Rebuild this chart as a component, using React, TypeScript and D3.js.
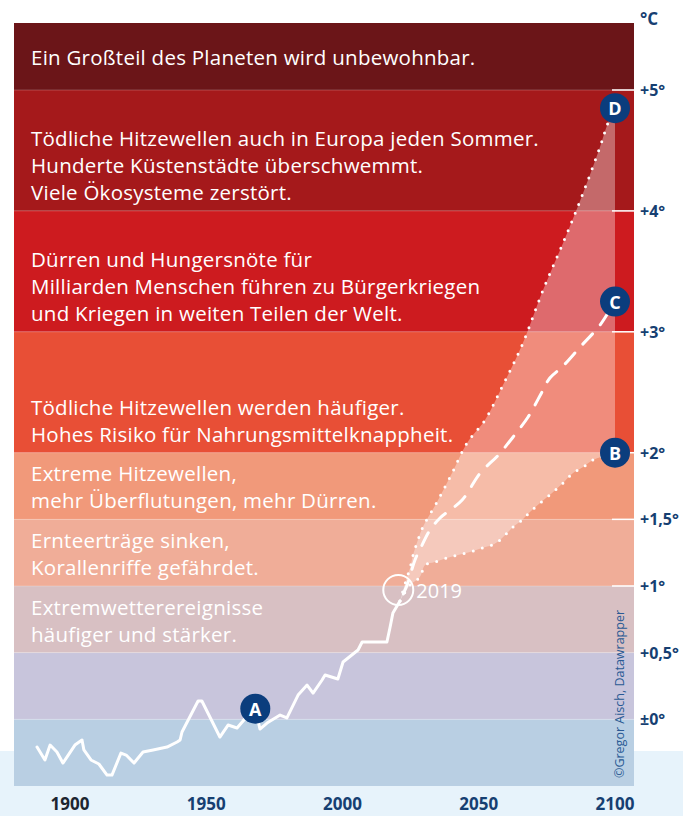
import React from 'react';
import * as d3 from 'd3';

const W = 683;
const H = 816;

// Band edges in °C (bottom → top) and their colours
const bandEdges = [-0.5, 0, 0.5, 1, 1.5, 2, 3, 4, 5, 5.55];
const bandColors = ['#b9cfe3', '#c8c5dc', '#d8c0c3', '#f0ad98', '#f1997a', '#e84f36', '#cd1b1f', '#a5191b', '#6b1518'];
const bandTexts: string[][] = [
  [],
  [],
  ['Extremwetterereignisse', 'häufiger und stärker.'],
  ['Ernteerträge sinken,', 'Korallenriffe gefährdet.'],
  ['Extreme Hitzewellen,', 'mehr Überflutungen, mehr Dürren.'],
  ['Tödliche Hitzewellen werden häufiger.', 'Hohes Risiko für Nahrungsmittelknappheit.'],
  ['Dürren und Hungersnöte für', 'Milliarden Menschen führen zu Bürgerkriegen', 'und Kriegen in weiten Teilen der Welt.'],
  ['Tödliche Hitzewellen auch in Europa jeden Sommer.', 'Hunderte Küstenstädte überschwemmt.', 'Viele Ökosysteme zerstört.'],
  ['Ein Großteil des Planeten wird unbewohnbar.'],
];

const yTicks = [0, 0.5, 1, 1.5, 2, 3, 4, 5];
const yTickLabels = ['±0°', '+0,5°', '+1°', '+1,5°', '+2°', '+3°', '+4°', '+5°'];
const whiteTicks = [1, 1.5, 2, 3, 4, 5];
const xTicks = [1900, 1950, 2000, 2050, 2100];

// Observed temperature anomaly (year, °C)
const histYears = [1887.9, 1890.8, 1892.7, 1895.2, 1897.4, 1901.8, 1904.4, 1905.1, 1907.7, 1910.6, 1913.6, 1915.4, 1918.7, 1920.6, 1923.5, 1926.8, 1930.5, 1935.6, 1939.3, 1940.4, 1941.1, 1947.0, 1948.4, 1955.0, 1958.0, 1961.3, 1963.5, 1966.8, 1968.3, 1969.7, 1972.3, 1977.1, 1979.6, 1983.7, 1987.0, 1989.2, 1992.5, 1993.6, 1998.3, 2000.2, 2005.7, 2007.2, 2016.3, 2017.4, 2018.5, 2021.1];
const histValues = [-0.208, -0.305, -0.193, -0.245, -0.328, -0.193, -0.155, -0.23, -0.305, -0.335, -0.418, -0.418, -0.253, -0.268, -0.328, -0.245, -0.23, -0.208, -0.17, -0.155, -0.095, 0.137, 0.137, -0.133, -0.043, -0.065, -0.013, 0.07, 0.055, -0.073, -0.028, 0.032, 0.01, 0.182, 0.257, 0.197, 0.295, 0.332, 0.302, 0.43, 0.52, 0.58, 0.58, 0.685, 0.797, 0.887];

// Scenario D (upper)
const dYears = [2021.1, 2023.7, 2024.8, 2025.9, 2027.3, 2029.5, 2034.7, 2040.2, 2045.7, 2052.3, 2058.9, 2065.9, 2073.6, 2081.7, 2088.3, 2094.5, 2097.4, 2100];
const dValues = [0.887, 1.067, 1.135, 1.232, 1.322, 1.442, 1.63, 1.847, 2.08, 2.27, 2.56, 2.89, 3.345, 3.776, 4.148, 4.529, 4.727, 4.85];
// Scenario C (middle)
const cYears = [2021.1, 2023.7, 2026.6, 2029.2, 2032.1, 2035.8, 2043.9, 2050.5, 2057.1, 2062.6, 2068.1, 2073.2, 2076.1, 2080.6, 2087.2, 2094.5, 2100];
const cValues = [0.887, 1.007, 1.195, 1.307, 1.42, 1.51, 1.645, 1.847, 1.98, 2.13, 2.295, 2.502, 2.618, 2.709, 2.874, 3.056, 3.255];
// Scenario B (lower)
const bYears = [2021.1, 2024.8, 2028.4, 2030.3, 2033.9, 2038.3, 2042.4, 2046.8, 2051.2, 2054.9, 2057.8, 2060.4, 2062.6, 2065.9, 2068.8, 2072.5, 2076.9, 2080.9, 2084.6, 2088.3, 2091.9, 2100];
const bValues = [0.887, 1.007, 1.067, 1.157, 1.18, 1.21, 1.232, 1.255, 1.285, 1.307, 1.345, 1.397, 1.442, 1.495, 1.555, 1.622, 1.697, 1.772, 1.847, 1.892, 1.945, 2.0];

const markerLabels = ['A', 'B', 'C', 'D'];
const markerYears = [1968, 2100, 2100, 2100];
const markerValues = [0.08, 2.0, 3.25, 4.85];

const markYear = 2019;
const markValue = 0.97;

const FONT = '"Open Sans", "Noto Sans", sans-serif';
const NAVY = '#0b3d7d';
const AXIS = '#163f72';

type P = [number, number];
const zip = (xs: number[], ys: number[]): P[] => xs.map((x, i) => [x, ys[i]]);

export default function App() {
  const x = d3.scaleLinear().domain([1900, 2100]).range([70, 615]);
  const y = d3.scaleLinear().domain([-0.5, 0, 2, 5, 5.55]).range([786, 719.3, 452.7, 90, 23]);
  const left = 14;
  const right = 634;

  const line = d3.line<P>().x((d) => x(d[0])).y((d) => y(d[1]));
  const smooth = d3.line<P>().x((d) => x(d[0])).y((d) => y(d[1])).curve(d3.curveCatmullRom.alpha(0.5));

  const hist = zip(histYears, histValues);
  const dPts = zip(dYears, dValues);
  const cPts = zip(cYears, cValues);
  const bPts = zip(bYears, bValues);

  const dPath = smooth(dPts) || '';
  const bRev = smooth([...bPts].reverse()) || '';
  const conePath = dPath + 'L' + bRev.slice(1) + 'Z';

  const topIdx = bandColors.length - 1;

  return (
    <svg width={W} height={H} style={{ position: 'absolute', left: 0, top: 0, display: 'block' }} fontFamily={FONT}>
      <rect x={0} y={0} width={W} height={H} fill="#ffffff" />
      <rect x={0} y={751} width={W} height={H - 751} fill="#e7f3fb" />
      {bandColors.map((c, i) => (
        <rect key={'b' + i} x={left} width={right - left} y={y(bandEdges[i + 1])} height={y(bandEdges[i]) - y(bandEdges[i + 1])} fill={c} />
      ))}
      {bandEdges.slice(1, -1).map((e, i) => (
        <line key={'bl' + i} x1={left} x2={right} y1={y(e)} y2={y(e)} stroke="#ffffff" strokeOpacity={0.22} strokeWidth={1} />
      ))}
      {bandTexts.map((lines, i) => {
        const bottom = y(bandEdges[i]);
        const top = y(bandEdges[i + 1]);
        return lines.map((t, j) => {
          const cy = i === topIdx ? (top + bottom) / 2 : bottom - 19 - (lines.length - 1 - j) * 27;
          return (
            <text key={'t' + i + '-' + j} x={31} y={cy} dominantBaseline="central" fill="#ffffff" fontSize={20.5} letterSpacing={0.25}>
              {t}
            </text>
          );
        });
      })}
      <path d={conePath} fill="#ffffff" fillOpacity={0.35} />
      <path d={line(hist) || ''} fill="none" stroke="#ffffff" strokeWidth={3} strokeLinejoin="round" strokeLinecap="round" />
      <path d={dPath} fill="none" stroke="#ffffff" strokeWidth={3} strokeDasharray="0 9.5" strokeLinecap="round" />
      <path d={smooth(bPts) || ''} fill="none" stroke="#ffffff" strokeWidth={3} strokeDasharray="0 9.5" strokeLinecap="round" />
      <path d={smooth(cPts) || ''} fill="none" stroke="#ffffff" strokeWidth={3} strokeDasharray="14 12" strokeDashoffset={-8} strokeLinecap="round" />
      {whiteTicks.map((t) => (
        <line key={'wt' + t} x1={612} x2={right} y1={y(t)} y2={y(t)} stroke="#ffffff" strokeWidth={1.5} />
      ))}
      <circle cx={x(markYear) + 4} cy={y(markValue)} r={15} fill="none" stroke="#ffffff" strokeWidth={2} />
      <text x={x(markYear) + 22} y={y(markValue) + 1} dominantBaseline="central" fill="#ffffff" fontSize={20}>
        2019
      </text>
      {markerLabels.map((m, i) => (
        <g key={'m' + m} transform={`translate(${x(markerYears[i])},${y(markerValues[i])})`}>
          <circle r={15} fill={NAVY} />
          <text textAnchor="middle" dominantBaseline="central" fill="#ffffff" fontSize={18} fontWeight={700}>
            {m}
          </text>
        </g>
      ))}
      <text x={640} y={18} dominantBaseline="central" fill={AXIS} fontSize={17} fontWeight={700}>
        °C
      </text>
      {yTicks.map((t, i) => (
        <text key={'yl' + t} x={640} y={y(t)} dominantBaseline="central" fill={AXIS} fontSize={16} fontWeight={700}>
          {yTickLabels[i]}
        </text>
      ))}
      {xTicks.map((t, i) => (
        <text key={'xl' + t} x={x(t)} y={803} textAnchor="middle" dominantBaseline="central" fill={i === 0 ? '#1d2530' : AXIS} fontSize={17} fontWeight={700}>
          {t}
        </text>
      ))}
      <text transform="translate(624,778) rotate(-90)" fill="#2a5a94" fontSize={12.5}>
        ©Gregor Aisch, Datawrapper
      </text>
    </svg>
  );
}
